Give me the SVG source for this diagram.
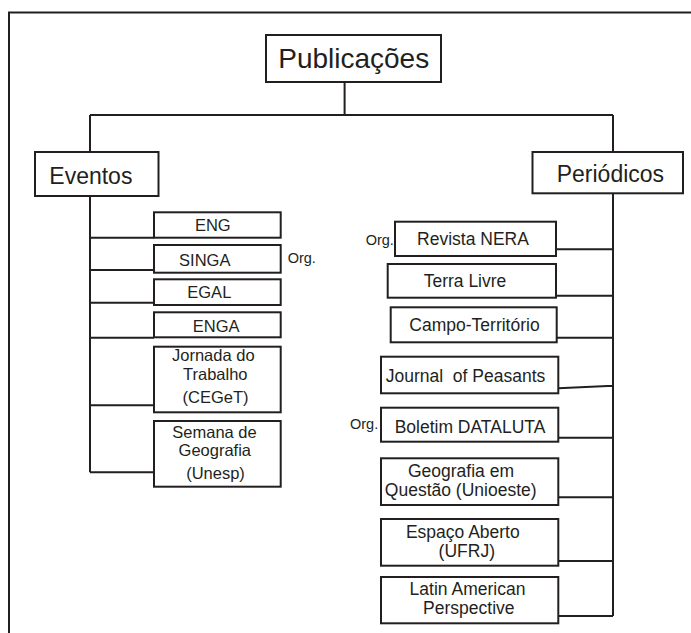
<svg xmlns="http://www.w3.org/2000/svg" width="691" height="633" viewBox="0 0 691 633">
<style>
.b{fill:#fff;stroke:#231f20;stroke-width:2}
.c{fill:none;stroke:#231f20;stroke-width:2}
text{font-family:"Liberation Sans",Arial,sans-serif;fill:#231f20}
.l{font-size:16.5px;text-anchor:middle}
.r{font-size:17.5px;text-anchor:middle}
.o{font-size:14.5px}
</style>
<rect width="691" height="633" fill="#fff"/>
<path class="c" d="M9,633 V12.5 H691"/>
<g id="connectors">
<path class="c" d="M344.6,82 V115 M90,115 H613 M90,115 V152 M613,115 V152"/>
<path class="c" d="M90,196 V472.3 M90,237.7 H154 M90,270 H154 M90,302.7 H154 M90,337.7 H154 M90,405.3 H154 M90,472.3 H154"/>
<path class="c" d="M613,193.3 V616 M556,249.3 H613 M556,295.7 H613 M556.7,337.7 H613 M558.3,388.3 L613,385.7 M558.3,437.7 H613 M558.3,497.3 H613 M558.3,561 H613 M558.3,616 H613"/>
</g>
<g id="publicacoes"><rect class="b" x="266" y="35" width="175" height="47"/><text x="353.7" y="68.3" font-size="28" text-anchor="middle">Publicações</text></g>
<g id="eventos"><rect class="b" x="35" y="152" width="123.5" height="44"/><text x="49.3" y="184" font-size="23">Eventos</text></g>
<g id="periodicos"><rect class="b" x="532.5" y="152" width="150.5" height="41.3"/><text x="556.7" y="181.7" font-size="23">Periódicos</text></g>
<g id="eng"><rect class="b" x="154" y="212.3" width="126.7" height="25.4"/><text class="l" x="212.8" y="231">ENG</text></g>
<g id="singa"><rect class="b" x="154" y="245" width="126.7" height="27.7"/><text class="l" x="204.8" y="265.7">SINGA</text><text class="o" x="287.7" y="263">Org.</text></g>
<g id="egal"><rect class="b" x="154" y="279.3" width="126.7" height="25.7"/><text class="l" x="209.3" y="298.3">EGAL</text></g>
<g id="enga"><rect class="b" x="154" y="312.3" width="126.7" height="25"/><text class="l" x="216.2" y="332.3">ENGA</text></g>
<g id="jornada"><rect class="b" x="154" y="346.7" width="126.7" height="65.6"/><text class="l" x="213.3" y="361">Jornada do</text><text class="l" x="215.3" y="380">Trabalho</text><text class="l" x="215.5" y="403.3">(CEGeT)</text></g>
<g id="semana"><rect class="b" x="154" y="421" width="126.7" height="65.7"/><text class="l" x="214.5" y="437.7">Semana de</text><text class="l" x="214.8" y="456">Geografia</text><text class="l" x="215.5" y="479">(Unesp)</text></g>
<g id="nera"><rect class="b" x="395" y="221.7" width="161" height="34.3"/><text class="r" x="473" y="245">Revista NERA</text><text class="o" x="365.7" y="245">Org.</text></g>
<g id="terra"><rect class="b" x="387.7" y="264" width="168.3" height="33.7"/><text class="r" x="465" y="286.7">Terra Livre</text></g>
<g id="campo"><rect class="b" x="390.7" y="307.3" width="166" height="35"/><text class="r" x="474.5" y="331">Campo-Território</text></g>
<g id="journal"><rect class="b" x="381" y="356.7" width="177.3" height="36.6"/><text class="r" x="465.5" y="381.7" xml:space="preserve">Journal  of Peasants</text></g>
<g id="boletim"><rect class="b" x="381" y="407.7" width="177.3" height="34"/><text class="r" x="470" y="432.7">Boletim DATALUTA</text><text class="o" x="350" y="429">Org.</text></g>
<g id="geografia"><rect class="b" x="381" y="458.3" width="177.3" height="46.7"/><text class="r" x="461" y="476.7">Geografia em</text><text class="r" x="460.7" y="496">Questão (Unioeste)</text></g>
<g id="espaco"><rect class="b" x="381" y="519" width="177.3" height="46.7"/><text class="r" x="462.8" y="537.7">Espaço Aberto</text><text class="r" x="466.8" y="556.7">(UFRJ)</text></g>
<g id="latin"><rect class="b" x="381" y="577" width="177.3" height="46.3"/><text class="r" x="467.5" y="594.5" font-size="17">Latin American</text><text class="r" x="468.8" y="613.6" font-size="17">Perspective</text></g>
</svg>
